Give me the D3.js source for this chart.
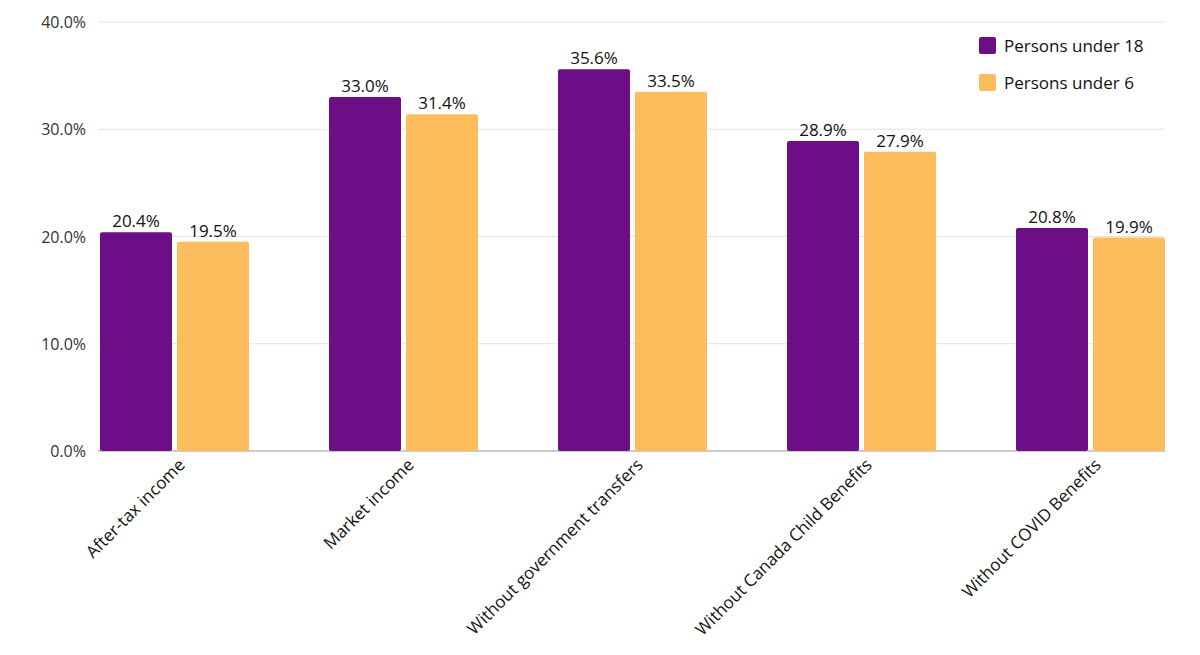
<!DOCTYPE html>
<html><head><meta charset="utf-8">
<script src="https://cdn.jsdelivr.net/npm/d3@7"></script>
<style>body{margin:0;background:#fff;font-family:"Open Sans",sans-serif;}</style>
</head><body><div id="chart"></div>
<script>
var categories = ["After-tax income", "Market income", "Without government transfers", "Without Canada Child Benefits", "Without COVID Benefits"];
var seriesNames = ["Persons under 18", "Persons under 6"];
var under18 = [20.4, 33.0, 35.6, 28.9, 20.8];
var under6 = [19.5, 31.4, 33.5, 27.9, 19.9];
var yTicks = [0, 10, 20, 30, 40];
var colors = ["#6c0e85", "#fdbd5c"];

var width = 1200, height = 655;
var svg = d3.select("#chart").append("svg").attr("width", width).attr("height", height);

var x0 = d3.scaleBand().domain(categories).range([98, 1243]);
var y = d3.scaleLinear().domain([0, 40]).range([451, 22]);
var bw = 72, gap = 5;

// grid and y labels
svg.selectAll(".grid").data(yTicks).enter().append("line")
    .attr("x1", 98).attr("x2", 1165)
    .attr("y1", function (d) { return y(d); }).attr("y2", function (d) { return y(d); })
    .attr("stroke", function (d) { return d === 0 ? "#999" : "#e3e3e3"; });
svg.selectAll(".ytl").data(yTicks).enter().append("text")
    .attr("x", 86).attr("y", function (d) { return y(d) + 6; })
    .attr("text-anchor", "end").attr("font-size", 16).attr("fill", "#333")
    .text(function (d) { return d.toFixed(1) + "%"; });

var series = [under18, under6];
series.forEach(function (vals, s) {
    var g = svg.append("g");
    g.selectAll("rect").data(vals).enter().append("rect")
        .attr("x", function (d, i) { return x0(categories[i]) + 2 + s * (bw + gap); })
        .attr("y", function (d) { return y(d); })
        .attr("width", bw)
        .attr("height", function (d) { return y(0) - y(d); })
        .attr("rx", 2)
        .attr("fill", colors[s]);
    g.selectAll("text").data(vals).enter().append("text")
        .attr("x", function (d, i) { return x0(categories[i]) + 2 + s * (bw + gap) + bw / 2; })
        .attr("y", function (d) { return y(d) - 5; })
        .attr("text-anchor", "middle").attr("font-size", 17).attr("fill", "#111")
        .text(function (d) { return d.toFixed(1) + "%"; });
});

// x labels
svg.selectAll(".xl").data(categories).enter().append("text")
    .attr("transform", function (d) { return "translate(" + (x0(d) + 88) + ",466) rotate(-45)"; })
    .attr("text-anchor", "end").attr("font-size", 17).attr("fill", "#111")
    .text(function (d) { return d; });

// legend
var leg = svg.selectAll(".leg").data(seriesNames).enter().append("g")
    .attr("transform", function (d, i) { return "translate(979," + (37 + i * 37) + ")"; });
leg.append("rect").attr("width", 17).attr("height", 17).attr("rx", 2)
    .attr("fill", function (d, i) { return colors[i]; });
leg.append("text").attr("x", 25).attr("y", 15).attr("font-size", 17).attr("fill", "#111")
    .text(function (d) { return d; });
</script>
</body></html>
